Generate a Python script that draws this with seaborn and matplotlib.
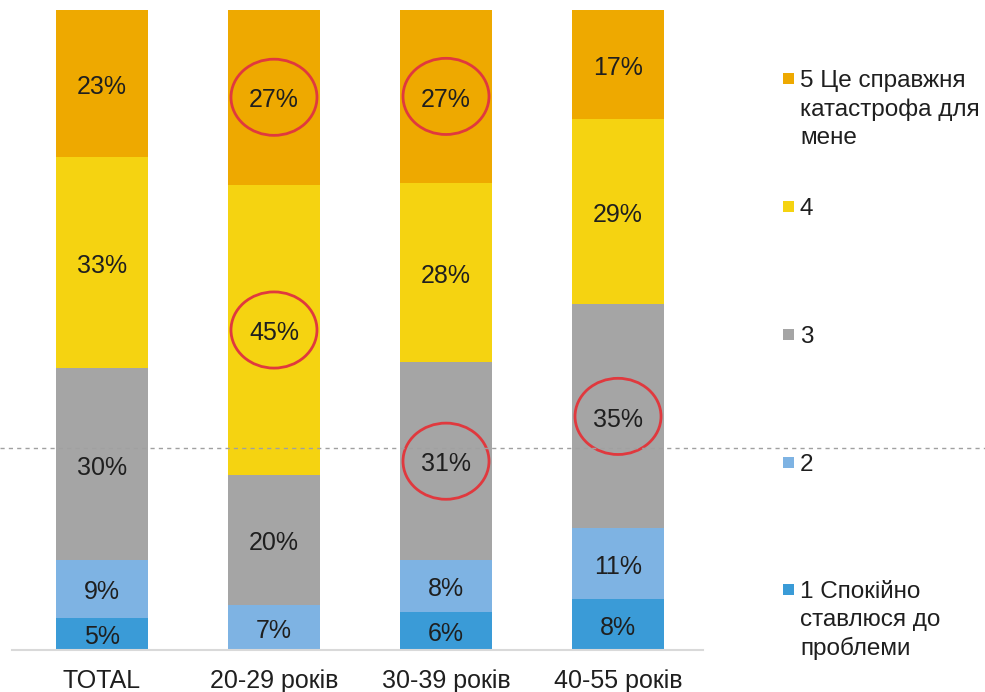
import matplotlib
matplotlib.use("Agg")
import matplotlib.pyplot as plt
from matplotlib.patches import Ellipse, Rectangle
from matplotlib.lines import Line2D
import numpy as np
import seaborn as sns

# age groups and answer shares (%), from bottom (1) to top (5)
groups = ["TOTAL", "20-29 років", "30-39 років", "40-55 років"]
level1 = [5, 0, 6, 8]
level2 = [9, 7, 8, 11]
level3 = [30, 20, 31, 35]
level4 = [33, 45, 28, 29]
level5 = [23, 27, 27, 17]
legend_labels = ["1 Спокійно\nставлюся до\nпроблеми", "2", "3", "4",
                 "5 Це справжня\nкатастрофа для\nмене"]
colors = ["#3A9BD7", "#7EB3E3", "#A5A5A5", "#F5D311", "#EEA900"]
# (group index, level index) of the values circled in red
circled = [(1, 4), (1, 3), (2, 4), (2, 2), (3, 2)]

series = [level1, level2, level3, level4, level5]

sns.set_style("white")
plt.rcParams["font.family"] = ["Liberation Sans", "DejaVu Sans"]
txt_color = "#1F1F1F"

W, H = 985, 692
fig = plt.figure(figsize=(W / 100, H / 100), dpi=100)
ax = fig.add_axes([12 / W, 1 - 650 / H, (703 - 12) / W, 640 / H])

totals = np.array(series).sum(axis=0)
bottom = np.zeros(len(groups))
mids = []
for vals, col in zip(series, colors):
    h = np.array(vals) / totals * 100
    sns.barplot(x=groups, y=h, color=col, width=0.54, saturation=1,
                bottom=bottom, linewidth=0, ax=ax)
    mids.append(bottom + h / 2)
    for j, v in enumerate(vals):
        if v > 0:
            ax.text(j, bottom[j] + h[j] / 2 - 0.5, f"{v}%", ha="center",
                    va="center", fontsize=18, color=txt_color)
    bottom = bottom + h

for g, lv in circled:
    ax.add_patch(Ellipse((g, mids[lv][g]), width=0.5, height=11.9, fill=False,
                         edgecolor="#E0393E", lw=2, zorder=5))

ax.set_xlim(-0.523, 3.494)
ax.set_ylim(0, 100)
ax.set_yticks([])
ax.set_xlabel("")
ax.set_ylabel("")
for s in ["top", "left", "right"]:
    ax.spines[s].set_visible(False)
ax.spines["bottom"].set_color("#D9D9D9")
ax.spines["bottom"].set_linewidth(1.5)
ax.tick_params(axis="x", length=0, pad=14, labelsize=18, labelcolor=txt_color)

# dashed reference line across the slide
yd = 1 - 448 / H
fig.add_artist(Line2D([0, 1], [yd, yd], transform=fig.transFigure,
                      color="#A0A0A0", lw=1, ls=(0, (3, 3)), zorder=10))

# legend, top entry = level 5
entry_y = [590, 463, 335, 207, 79]
for lab, col, yc in zip(legend_labels, colors, entry_y):
    fig.add_artist(Rectangle((783 / W, 1 - (yc + 5) / H), 11 / W, 11 / H,
                             transform=fig.transFigure, color=col, lw=0))
    fig.text(800 / W, 1 - (yc - 9) / H, lab, ha="left", va="top",
             fontsize=17.5, color=txt_color, linespacing=1.35)

fig.savefig("out.png", dpi=100)
